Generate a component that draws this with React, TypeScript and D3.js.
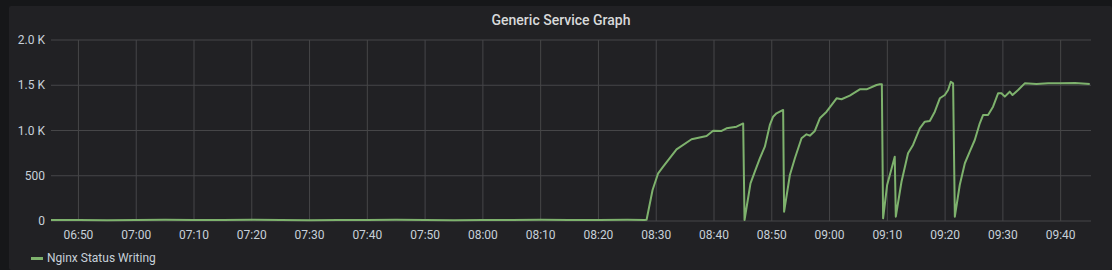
import React from "react";
import * as d3 from "d3";

const title = "Generic Service Graph";
const seriesName = "Nginx Status Writing";
const day = "2020-01-01";
const domainStart = "06:45:15";
const domainEnd = "09:45:15";

const yTicks = [0, 500, 1000, 1500, 2000];
const yTickLabels = ["0", "500", "1.0 K", "1.5 K", "2.0 K"];
const xTicks = ["06:50", "07:00", "07:10", "07:20", "07:30", "07:40", "07:50", "08:00", "08:10", "08:20", "08:30", "08:40", "08:50", "09:00", "09:10", "09:20", "09:30", "09:40"];

const times = [
  "06:45:15", "06:50:00", "06:55:00", "07:00:00", "07:05:00", "07:10:00", "07:15:00", "07:20:00", "07:25:00", "07:30:00",
  "07:35:00", "07:40:00", "07:45:00", "07:50:00", "07:55:00", "08:00:00", "08:05:00", "08:10:00", "08:15:00", "08:20:00",
  "08:25:00", "08:28:00", "08:28:20", "08:29:22", "08:30:20", "08:31:12", "08:33:31", "08:36:07", "08:38:43", "08:39:51",
  "08:41:19", "08:42:10", "08:43:54", "08:45:03", "08:45:17", "08:46:19", "08:47:04", "08:47:56", "08:48:48", "08:49:40",
  "08:50:14", "08:50:49", "08:51:58", "08:52:08", "08:53:08", "08:54:00", "08:55:09", "08:56:01", "08:56:35", "08:57:27",
  "08:58:19", "08:59:29", "09:01:13", "09:02:04", "09:03:30", "09:05:14", "09:06:24", "09:08:08", "09:08:42", "09:09:03",
  "09:09:16", "09:09:58", "09:11:17", "09:11:28", "09:12:27", "09:13:35", "09:14:27", "09:15:37", "09:16:29", "09:17:21",
  "09:18:13", "09:19:05", "09:19:57", "09:20:31", "09:20:59", "09:21:23", "09:21:41", "09:22:32", "09:23:25", "09:24:16",
  "09:25:08", "09:26:00", "09:26:34", "09:27:26", "09:28:18", "09:29:10", "09:29:45", "09:30:20", "09:31:11", "09:31:40",
  "09:32:38", "09:33:47", "09:35:49", "09:37:50", "09:39:50", "09:42:30", "09:45:02"
];
const values = [
  10, 12, 9, 11, 13, 10, 12, 14, 11, 9,
  12, 10, 13, 11, 9, 10, 12, 14, 11, 12,
  13, 12, 14, 343, 527, 600, 792, 903, 939, 998,
  995, 1024, 1042, 1078, 11, 416, 545, 693, 821, 1061,
  1152, 1190, 1227, 103, 508, 693, 914, 958, 943, 995,
  1135, 1208, 1356, 1345, 1385, 1455, 1455, 1503, 1510, 1510,
  30, 398, 711, 48, 434, 748, 840, 1024, 1097, 1105,
  1208, 1356, 1392, 1447, 1539, 1521, 48, 398, 638, 766,
  895, 1080, 1171, 1171, 1263, 1411, 1411, 1374, 1429, 1392,
  1447, 1521, 1514, 1521, 1521, 1524, 1514
];

const W = 1112;
const H = 270;
const margin = { left: 51, right: 21, top: 40, bottom: 49 };

const parse = (t: string) => new Date(`${day}T${t}`);

export default function App() {
  const x = d3
    .scaleTime()
    .domain([parse(domainStart), parse(domainEnd)])
    .range([margin.left, W - margin.right]);
  const y = d3.scaleLinear().domain([0, 2000]).range([H - margin.bottom, margin.top]);

  const data = times.map((t, i) => ({ t: parse(t), v: values[i] }));
  const line = d3
    .line<{ t: Date; v: number }>()
    .x((d) => x(d.t))
    .y((d) => y(d.v));

  const gridColor = "#464648";
  const textColor = "#c7d0d9";
  const font = "Roboto, 'Noto Sans', sans-serif";

  return (
    <svg
      width={W}
      height={H}
      style={{ position: "fixed", left: 0, top: 0, display: "block" }}
      fontFamily={font}
    >
      <rect x={0} y={0} width={W} height={H} fill="#161719" />
      <rect x={9} y={6} width={W - 9} height={H - 6} fill="#212124" rx={2} />
      <text x={561} y={25} textAnchor="middle" fill="#d8d9da" fontSize={14} fontWeight={500}>
        {title}
      </text>
      {yTicks.map((v) => (
        <line key={"gy" + v} x1={margin.left} x2={W - margin.right} y1={y(v)} y2={y(v)} stroke={gridColor} strokeWidth={1} />
      ))}
      {xTicks.map((t) => (
        <line key={"gx" + t} x1={x(parse(t + ":00"))} x2={x(parse(t + ":00"))} y1={margin.top} y2={H - margin.bottom} stroke={gridColor} strokeWidth={1} />
      ))}
      {yTicks.map((v, i) => (
        <text key={"ty" + v} x={45} y={y(v)} dy="0.35em" textAnchor="end" fill={textColor} fontSize={12}>
          {yTickLabels[i]}
        </text>
      ))}
      {xTicks.map((t) => (
        <text key={"tx" + t} x={x(parse(t + ":00"))} y={H - margin.bottom + 14} dy="0.35em" textAnchor="middle" fill={textColor} fontSize={12}>
          {t}
        </text>
      ))}
      <path d={line(data) || ""} fill="none" stroke="#7eb26d" strokeWidth={2} strokeLinejoin="round" />
      <rect x={31} y={257} width={12} height={3} fill="#7eb26d" />
      <text x={47} y={258} dy="0.35em" fill={textColor} fontSize={12}>
        {seriesName}
      </text>
    </svg>
  );
}
